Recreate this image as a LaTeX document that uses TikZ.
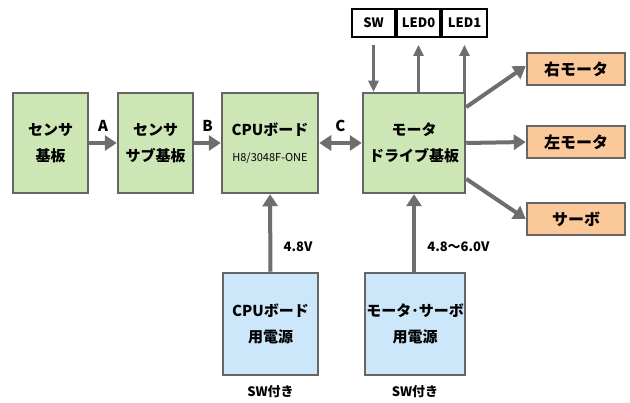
\documentclass[tikz,border=0pt]{standalone}
\usepackage{fontspec}
\setmainfont{Noto Sans CJK JP}
\usetikzlibrary{calc, arrows.meta, positioning}

\definecolor{boardgreen}{HTML}{CDE6B5}
\definecolor{powerblue}{HTML}{CCE6FA}
\definecolor{motororange}{HTML}{FBC899}
\definecolor{framegray}{HTML}{666666}
\definecolor{arrowgray}{HTML}{6E6E6E}

\begin{document}
\begin{tikzpicture}[x=1pt, y=-1pt,
  font=\fontsize{15}{26}\selectfont\bfseries,
  board/.style = {draw=framegray, line width=2.5pt, fill=boardgreen,
    minimum height=100pt, align=center, inner sep=1pt},
  power/.style = {draw=framegray, line width=2.5pt, fill=powerblue,
    minimum height=102pt, align=center, inner sep=1pt},
  motor/.style = {draw=framegray, line width=2.5pt, fill=motororange,
    minimum width=98pt, minimum height=32pt, font=\fontsize{16}{18}\selectfont\bfseries},
  io/.style = {draw=black, line width=1.8pt, fill=white, minimum height=28pt,
    inner sep=1pt, font=\fontsize{13}{15}\selectfont\bfseries},
  link/.style = {draw=arrowgray, line width=4pt, -{Triangle[length=12pt, width=15pt]}},
  thin link/.style = {draw=arrowgray, line width=2.5pt, -{Triangle[length=11pt, width=10pt]}},
  tag/.style = {font=\fontsize{13}{15}\selectfont\bfseries}]
\useasboundingbox (0,0) rectangle (630,403);

% boards
\node[board, minimum width=75pt] (sens) at (50.5,143) {センサ\\基板};
\node[board, minimum width=75pt] (sub) at (155.5,143) {センサ\\サブ基板};
\node[board, minimum width=96pt] (cpu) at (270,143)
  {CPUボード\\{\fontsize{11}{15}\selectfont\mdseries H8/3048F-ONE}};
\node[board, minimum width=102pt] (drv) at (414,143) {モータ\\ドライブ基板};

% switch and leds
\node[io, minimum width=43pt] (sw) at (373.5,23) {SW};
\node[io, minimum width=43pt] (led0) at (418.5,23) {LED0};
\node[io, minimum width=45pt] (led1) at (464.5,23) {LED1};

% actuators
\node[motor] (rmot) at (576,69) {右モータ};
\node[motor] (lmot) at (576,142) {左モータ};
\node[motor] (servo) at (576,219) {サーボ};

% power supplies
\node[power, minimum width=95pt] (cpupw) at (270.5,324) {CPUボード\\用電源};
\node[power, minimum width=100pt] (drvpw) at (415,324) {モータ･サーボ\\用電源};
\node[tag] (cpusw) [below = 6pt of cpupw] {SW付き};
\node[tag] (drvsw) [below = 6pt of drvpw] {SW付き};

% signals
\draw[link] (sens) -- node[above=6pt] {A} (sub);
\draw[link] (sub) -- node[above=6pt] {B} (cpu);
\draw[link, {Triangle[length=12pt, width=15pt]}-{Triangle[length=12pt, width=15pt]}]
  (cpu) -- node[above=6pt] {C} (drv);

\draw[thin link, shorten <=7pt] (sw.south) -- (sw.south |- drv.north);
\draw[thin link, shorten >=7pt] (led0.south |- drv.north) -- (led0.south);
\draw[thin link, shorten >=7pt] (led1.south |- drv.north) -- (led1.south);

\draw[link] ($(drv.north east)!0.15!(drv.south east)$) -- ($(rmot.west)+(0,-3)$);
\draw[link] (drv.east) -- (lmot.west);
\draw[link] ($(drv.north east)!0.85!(drv.south east)$) -- (servo.west);

% power lines
\draw[link] (cpupw) -- node[right=8pt, pos=0.32, tag] {4.8V} (cpu);
\draw[link] (drvpw.north -| drv.south) -- node[right=8pt, pos=0.32, tag] {4.8〜6.0V} (drv.south);
\end{tikzpicture}
\end{document}
